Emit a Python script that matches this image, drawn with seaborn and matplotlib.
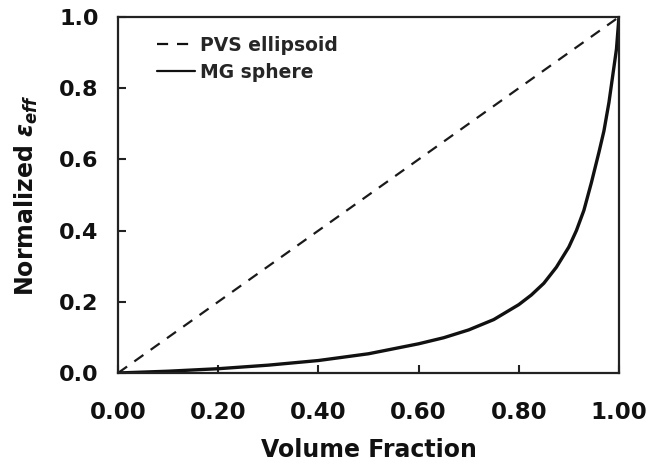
import matplotlib
matplotlib.use("Agg")
import matplotlib.pyplot as plt
import seaborn as sns
import pandas as pd

# Data
pvs_x = [0.0, 1.0]
pvs_y = [0.0, 1.0]
mg_x = [0.0, 0.1, 0.2, 0.3, 0.4, 0.5, 0.6, 0.65, 0.7, 0.75, 0.8, 0.825, 0.85, 0.875, 0.9, 0.915,
        0.93, 0.945, 0.96, 0.97, 0.98, 0.99, 0.995, 1.0]
mg_y = [0.0, 0.005, 0.012, 0.022, 0.035, 0.054, 0.082, 0.099, 0.121, 0.150, 0.192, 0.219, 0.252, 0.297, 0.354, 0.40,
        0.457, 0.535, 0.62, 0.68, 0.76, 0.86, 0.91, 1.0]
x_ticks = [0.0, 0.2, 0.4, 0.6, 0.8, 1.0]
x_tick_labels = ["0.00", "0.20", "0.40", "0.60", "0.80", "1.00"]
y_ticks = [0.0, 0.2, 0.4, 0.6, 0.8, 1.0]
y_tick_labels = ["0.0", "0.2", "0.4", "0.6", "0.8", "1.0"]

df = pd.concat([
    pd.DataFrame({"x": pvs_x, "y": pvs_y, "series": "PVS ellipsoid"}),
    pd.DataFrame({"x": mg_x, "y": mg_y, "series": "MG sphere"}),
], ignore_index=True)

sns.set_style("ticks")
plt.rcParams["font.family"] = ["DejaVu Sans"]
plt.rcParams["font.weight"] = "bold"
plt.rcParams["mathtext.fontset"] = "dejavusans"

fig = plt.figure(figsize=(6.51, 4.66), dpi=100)
ax = fig.add_axes([0.1813, 0.1996, 0.9508 - 0.1813, 0.9635 - 0.1996])

sns.lineplot(data=df, x="x", y="y", hue="series", style="series",
             palette={"PVS ellipsoid": "#1a1a1a", "MG sphere": "#111111"},
             dashes={"PVS ellipsoid": (5, 4), "MG sphere": ""},
             sort=False, estimator=None, ax=ax, legend=True)
for line in ax.lines:
    if line.get_linestyle() == "-":
        line.set_linewidth(2.4)
        line.set_solid_joinstyle("round")
    else:
        line.set_linewidth(1.6)

ax.set_xlim(0, 1)
ax.set_ylim(0, 1)
ax.set_xticks(x_ticks)
ax.set_xticklabels(x_tick_labels)
ax.set_yticks(y_ticks)
ax.set_yticklabels(y_tick_labels)
ax.tick_params(direction="in", length=6, width=1.5, color="#222222",
               top=False, right=False)
ax.tick_params(axis="x", labelsize=16.5, pad=20)
ax.tick_params(axis="y", labelsize=16, pad=14)
for lab in ax.get_xticklabels() + ax.get_yticklabels():
    lab.set_fontweight("bold")
    lab.set_color("#111111")
for sp in ax.spines.values():
    sp.set_visible(True)
    sp.set_linewidth(1.6)
    sp.set_color("#222222")

ax.set_xlabel("Volume Fraction", fontsize=17, fontweight="bold", labelpad=10, color="#111111")
ax.set_ylabel(r"Normalized $\mathit{\varepsilon_{eff}}$", fontsize=17, fontweight="bold",
              labelpad=14, color="#111111")

leg = ax.legend(loc="upper left", frameon=False, fontsize=13.5, handlelength=2.0,
                handletextpad=0.3, borderaxespad=0.0, borderpad=0.0, labelspacing=0.42,
                bbox_to_anchor=(0.078, 0.947))
for t in leg.get_texts():
    t.set_fontweight("bold")
for h in leg.get_lines():
    h.set_color("#111111")
    h.set_linewidth(1.6)

fig.savefig("out.png", dpi=100)
